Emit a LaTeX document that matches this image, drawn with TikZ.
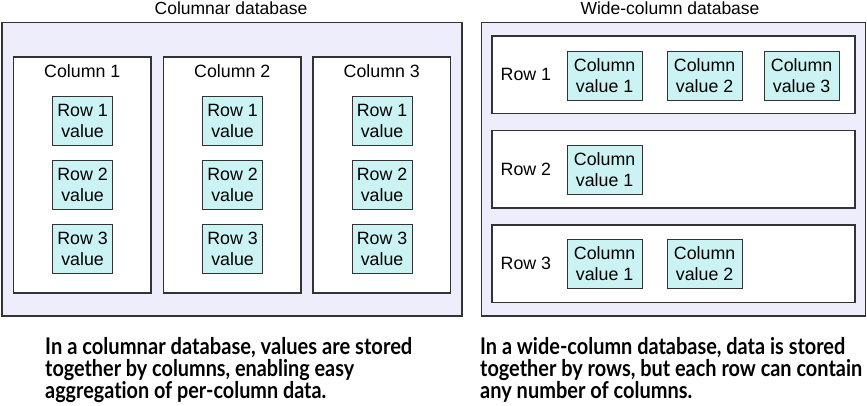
\documentclass[tikz,border=0pt]{standalone}
\usepackage{fontspec}
\setmainfont{Liberation Sans}
\newfontfamily\capfont[Ligatures=NoCommon]{Lato}
\newcommand{\fitline}[2]{\resizebox{#1}{\height}{#2}}
\begin{document}
\begin{tikzpicture}[x=1pt,y=-1pt,
  outerbox/.style={draw=black!80, line width=1.5pt, fill=lav},
  groupbox/.style={draw=black!80, line width=1.2pt, fill=white},
  cellbox/.style={draw=black!80, line width=1.2pt, fill=cyanish},
  lbl/.style={font=\fontsize{17.8}{21}\selectfont, inner sep=0pt},
  ttl/.style={font=\fontsize{17.5}{21}\selectfont, inner sep=0pt},
  captxt/.style={font=\capfont\bfseries\fontsize{23}{22}\selectfont, inner sep=0pt, anchor=base west}]
\definecolor{lav}{HTML}{EDEDFB}
\definecolor{cyanish}{HTML}{CCF3F3}
\useasboundingbox (0,0) rectangle (867,405);
% ---------- left: columnar ----------
\node[ttl] (ltitle) at (231,8) {Columnar database};
\draw[outerbox] (2,22.5) rectangle (462,316);
\foreach \i/\x in {1/13.5,2/163.5,3/313} {
  \draw[groupbox] (\x,57) rectangle ++(137.5,236);
  \node[lbl] (col\i) at (\x+68.75,71) {Column \i};
  \foreach \r/\y in {1/96,2/160,3/224} {
    \node[cellbox, minimum width=60pt, minimum height=49pt, inner sep=0pt, anchor=north west,
      align=center, font=\fontsize{17.8}{21}\selectfont] (c\i r\r) at (\x+38.5,\y) {Row \r\\value};
  }
}
% ---------- right: wide-column ----------
\node[ttl] (rtitle) at (670,8) {Wide-column database};
\draw[outerbox] (481.5,22.5) rectangle (865.5,316);
\foreach \r/\y in {1/36,2/130.5,3/225} {
  \draw[groupbox] (492,\y) rectangle ++(363,77.5);
  \node[lbl, anchor=west] (row\r) at (500.5,\y+38.5) {Row \r};
}
\tikzset{wcell/.style={cellbox, minimum width=75pt, minimum height=49pt, inner sep=0pt, anchor=north west,
      align=center, font=\fontsize{17.8}{21}\selectfont}}
\node[wcell] (w11) at (566.5,51) {Column\\value 1};
\node[wcell] (w12) at (666.5,51) {Column\\value 2};
\node[wcell] (w13) at (763.5,51) {Column\\value 3};
\node[wcell] (w21) at (566.5,144.5) {Column\\value 1};
\node[wcell] (w31) at (566.5,239) {Column\\value 1};
\node[wcell] (w32) at (666.5,239) {Column\\value 2};
% ---------- captions ----------
\node[captxt] (lc1) at (45,354) {\fitline{367pt}{In a columnar database, values are stored}};
\node[captxt] (lc2) at (45,376) {\fitline{309pt}{together by columns, enabling easy}};
\node[captxt] (lc3) at (45,398) {\fitline{281pt}{aggregation of per-column data.}};
\node[captxt] (rc1) at (480,354) {\fitline{365pt}{In a wide-column database, data is stored}};
\node[captxt] (rc2) at (480,376) {\fitline{382pt}{together by rows, but each row can contain}};
\node[captxt] (rc3) at (480,398) {\fitline{212pt}{any number of columns.}};
\end{tikzpicture}
\end{document}
